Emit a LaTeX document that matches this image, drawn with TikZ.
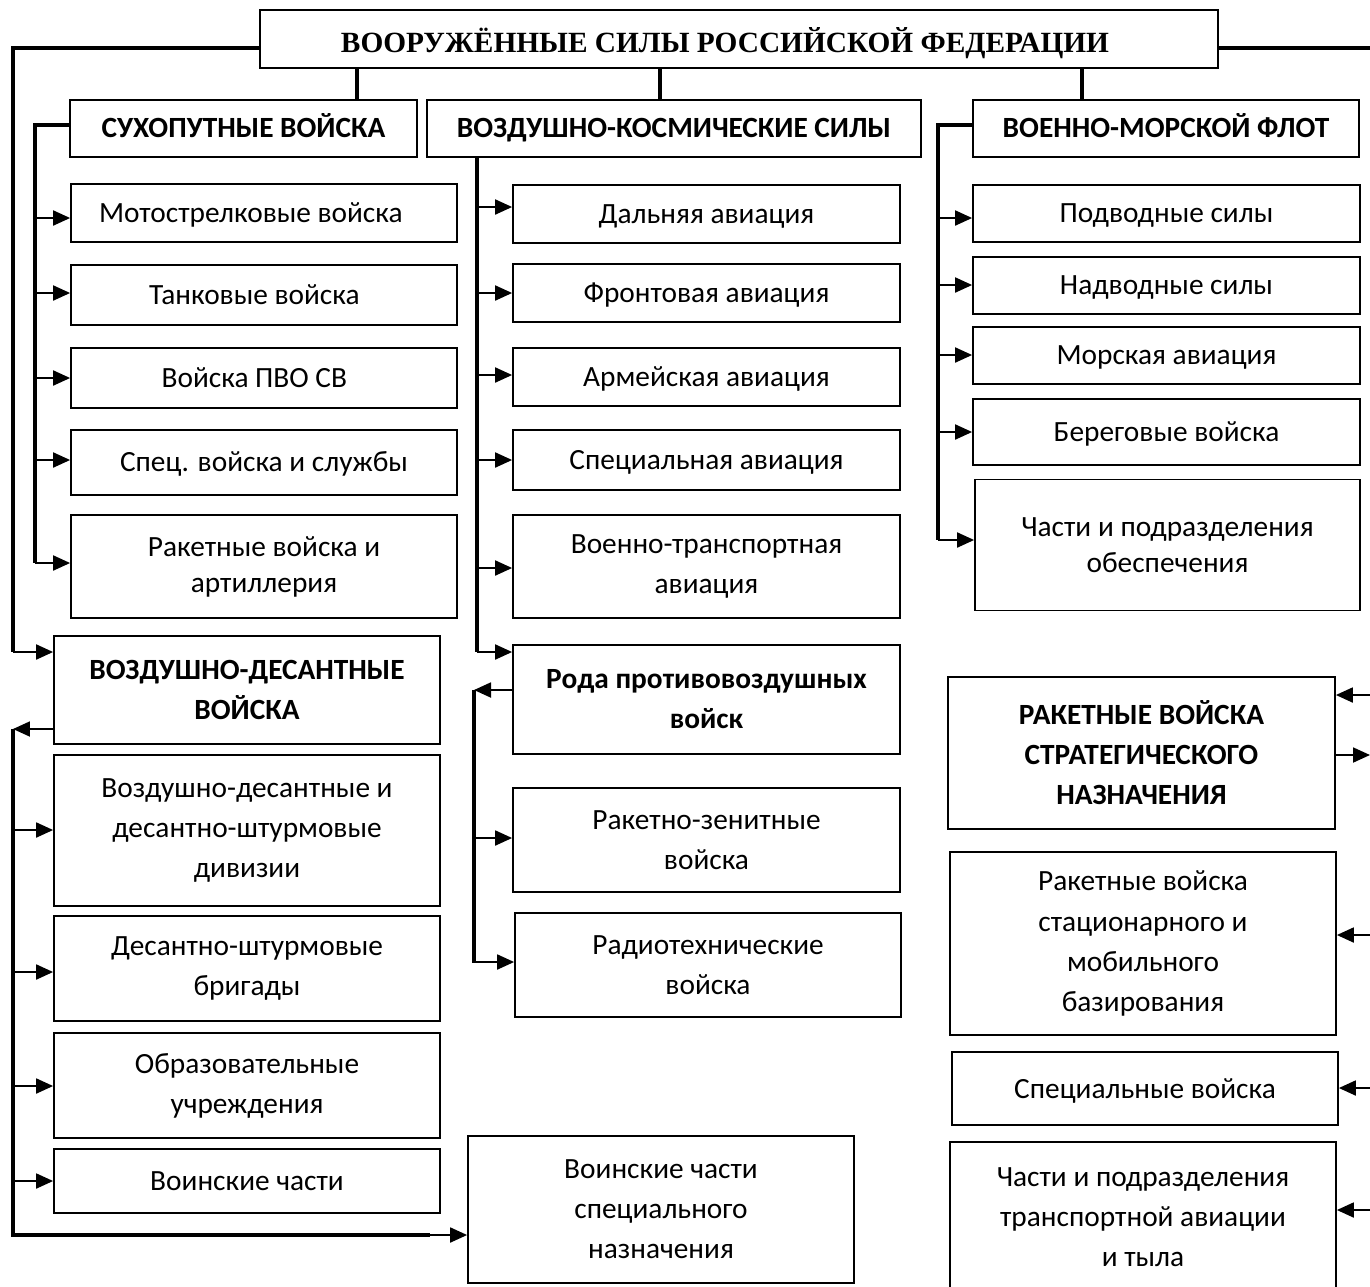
\documentclass[tikz,border=0pt]{standalone}
\usepackage{fontspec}
\setmainfont{Carlito}
\newfontfamily\titlefont{Liberation Serif}
\usetikzlibrary{arrows.meta}
\tikzset{
  box/.style={draw,line width=1pt,align=center,inner sep=0pt,font=\fontsize{16.7}{22.8}\selectfont},
  head/.style={box,font=\bfseries\fontsize{16.7}{22.8}\selectfont},
  one/.style={text height=10.8pt,text depth=0pt},
  sz/.style n args={2}{minimum width=#1*0.02cm,minimum height=#2*0.02cm},
  trunk/.style={line width=2.8pt},
  arr/.style={line width=1.1pt,-{Triangle[length=0.34cm,width=0.3cm]}}
}
\begin{document}
\begin{tikzpicture}[x=0.02cm,y=-0.02cm]
  \useasboundingbox (0,0) rectangle (1370,1286);
  % top
  \node[box,one,text height=15.6pt,sz={958}{58},font=\titlefont\bfseries\fontsize{16.7}{20}\selectfont] (title) at (739,39) {ВООРУЖЁННЫЕ СИЛЫ РОССИЙСКОЙ ФЕДЕРАЦИИ\hspace{16pt}};
  \node[head,one,sz={347}{57}] (sv) at (243.5,128.5) {СУХОПУТНЫЕ ВОЙСКА};
  \node[head,one,sz={494}{57}] (vks) at (674,128.5) {ВОЗДУШНО-КОСМИЧЕСКИЕ СИЛЫ};
  \node[head,one,sz={386}{57}] (vmf) at (1166,128.5) {ВОЕННО-МОРСКОЙ ФЛОТ};
  % ground forces
  \node[box,one,sz={386}{58}] (mot) at (264,213) {Мотострелковые войска\hspace{15pt}};
  \node[box,one,sz={386}{60}] (tank) at (264,295) {Танковые войска\hspace{11pt}};
  \node[box,one,sz={386}{60}] (pvo) at (264,378) {Войска ПВО СВ\hspace{11pt}};
  \node[box,one,sz={386}{65}] (spec) at (264,462.5) {Спец. войска и службы};
  \node[box,sz={386}{103},font=\fontsize{16.7}{20.5}\selectfont] (rva) at (264,566.5) {Ракетные войска и\\артиллерия};
  % aerospace forces
  \node[box,one,sz={387}{58}] (dal) at (706.5,214) {Дальняя авиация};
  \node[box,one,sz={387}{58}] (front) at (706.5,293) {Фронтовая авиация};
  \node[box,one,sz={387}{58}] (arm) at (706.5,377) {Армейская авиация};
  \node[box,one,sz={387}{60}] (specav) at (706.5,460) {Специальная авиация};
  \node[box,sz={387}{103}] (vta) at (706.5,566.5) {Военно-транспортная\\авиация};
  \node[head,sz={387}{109}] (pvb) at (706.5,699.5) {Рода противовоздушных\\войск};
  \node[box,sz={387}{104}] (rzv) at (706.5,840) {Ракетно-зенитные\\войска};
  \node[box,sz={386}{104}] (rtv) at (708,965) {Радиотехнические\\войска};
  % navy
  \node[box,one,sz={387}{57}] (podv) at (1166.5,213.5) {Подводные силы};
  \node[box,one,sz={387}{57}] (nadv) at (1166.5,285.5) {Надводные силы};
  \node[box,one,sz={387}{57}] (mav) at (1166.5,355.5) {Морская авиация};
  \node[box,one,sz={387}{66}] (bereg) at (1166.5,432) {Береговые войска};
  \node[box,sz={385}{131},font=\fontsize{16.7}{20.5}\selectfont] (chob) at (1167.5,545) {Части и подразделения\\обеспечения};
  % strategic missile forces
  \node[head,sz={387}{152}] (rvsn) at (1141.5,753) {РАКЕТНЫЕ ВОЙСКА\\СТРАТЕГИЧЕСКОГО\\НАЗНАЧЕНИЯ};
  \node[box,sz={386}{183}] (rsm) at (1143,943.5) {Ракетные войска\\стационарного и\\мобильного\\базирования};
  \node[box,one,sz={386}{73}] (spv) at (1145,1088.5) {Специальные войска};
  \node[box,sz={386}{150}] (tyl) at (1143,1217) {Части и подразделения\\транспортной авиации\\и тыла};
  % airborne forces
  \node[head,sz={386}{108}] (vdv) at (247,690) {ВОЗДУШНО-ДЕСАНТНЫЕ\\ВОЙСКА};
  \node[box,sz={386}{151}] (div) at (247,830.5) {Воздушно-десантные и\\десантно-штурмовые\\дивизии};
  \node[box,sz={386}{105}] (brig) at (247,968.5) {Десантно-штурмовые\\бригады};
  \node[box,sz={386}{105}] (obr) at (247,1085.5) {Образовательные\\учреждения};
  \node[box,one,sz={386}{64}] (vch) at (247,1181) {Воинские части};
  \node[box,sz={386}{147}] (vchsn) at (661,1209.5) {Воинские части\\специального\\назначения};

  \coordinate (lt) at (13,48);
  \coordinate (lb) at (13,652);
  \coordinate (rt) at (1375,48);
  \coordinate (svb) at (35,563);
  \coordinate (vksb) at (477,652);
  \coordinate (pvbb) at (474,963);
  \coordinate (vmfb) at (938,540);
  \coordinate (vdvb) at (13,1235);

  % stubs from the title
  \draw[trunk] (title.south -| 357,0) -- (sv.north -| 357,0);
  \draw[trunk] (title.south -| 660,0) -- (vks.north -| 660,0);
  \draw[trunk] (title.south -| 1082,0) -- (vmf.north -| 1082,0);
  \draw[trunk] (title.west |- lt) -- (lt) -- (lb);
  \draw[arr] (lb) -- (vdv.west |- lb);
  \draw[trunk] (title.east |- rt) -- (rt);

  \draw[trunk] (sv.west |- 0,125) -| (svb);
  \foreach \n/\y in {mot/218,tank/293,pvo/378,spec/460,rva/563}
    \draw[arr] (35,\y) -- (\n.west |- 0,\y);

  \draw[trunk] (vks.south -| vksb) -- (vksb);
  \draw[arr] (vksb) -- (pvb.west |- vksb);
  \foreach \n/\y in {dal/207,front/293,arm/375,specav/460,vta/568}
    \draw[arr] (477,\y) -- (\n.west |- 0,\y);

  \draw[arr] (pvb.west |- 0,690) -- (474,690);
  \draw[trunk] (474,690) -- (pvbb);
  \foreach \n/\y in {rzv/838,rtv/962}
    \draw[arr] (474,\y) -- (\n.west |- 0,\y);

  \draw[trunk] (vmf.west |- 0,125) -| (vmfb);
  \foreach \n/\y in {podv/218,nadv/285,mav/355,bereg/432,chob/540}
    \draw[arr] (938,\y) -- (\n.west |- 0,\y);

  % right side
  \draw[arr] (1375,695) -- (rvsn.east |- 0,695);
  \draw[arr] (rvsn.east |- 0,755) -- (1370,755);
  \foreach \n/\y in {rsm/935,spv/1088,tyl/1210}
    \draw[arr] (1375,\y) -- (\n.east |- 0,\y);

  % airborne
  \draw[arr] (vdv.west |- 0,729) -- (13,729);
  \draw[trunk] (13,729) |- (430,1235);
  \draw[arr] (430,1235) -- (vchsn.west |- 0,1235);
  \foreach \n/\y in {div/830,brig/972,obr/1086,vch/1181}
    \draw[arr] (13,\y) -- (\n.west |- 0,\y);
\end{tikzpicture}
\end{document}
